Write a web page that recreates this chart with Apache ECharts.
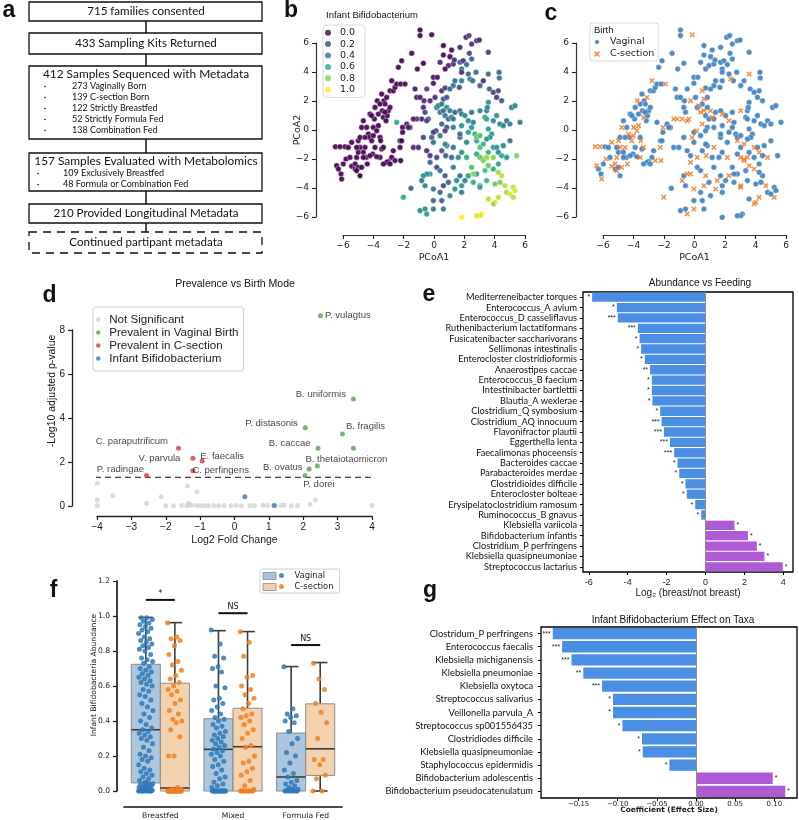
<!DOCTYPE html>
<html>
<head>
<meta charset="utf-8">
<script src="https://cdn.jsdelivr.net/npm/echarts@6.0.0/dist/echarts.min.js"></script>
<style>
  html, body { margin: 0; padding: 0; background: #fff; }
  #chart { width: 799px; height: 820px; }
</style>
</head>
<body>
<div id="chart"></div>
<script>
// ---------- data ----------
const flowTitles = [
  '715 families consented',
  '433 Sampling Kits Returned',
  '412 Samples Sequenced with Metadata',
  '157 Samples Evaluated with Metabolomics',
  '210 Provided Longitudinal Metadata',
  'Continued partipant metadata'
];
const flowItems = [
  [],
  [],
  ['273 Vaginally Born', '139 C-section Born', '122 Strictly Breastfed', '52 Strictly Formula Fed', '138 Combination Fed'],
  ['109 Exclusively Breastfed', '48 Formula or Combination Fed'],
  [],
  []
];

// [PCoA1, PCoA2, infant Bifidobacterium, birth (0 vaginal / 1 C-section)]
const pcoaPoints = [
  [-6.5,-1.15,0,1],[-6.2,-1.15,0,1],[-5.87,-1.15,0,0],[-6.42,-2.46,0,1],[-6.3,-2.69,0,0],[-6.13,-3.03,0,0],[-6.09,-3.38,0,1],[-5.98,-2.34,0,0],[-5.8,-2.0,0,1],[-5.65,-1.2,0,0],
  [-5.43,-0.85,0,1],[-5.43,-2.5,0,1],[-5.2,-2.34,0,1],[-5.2,-2.69,0,0],[-5.1,-1.89,0,1],[-4.99,-1.54,0,0],[-4.99,-0.74,0,1],[-4.88,-0.51,0,0],[-4.77,0.18,0,1],[-4.66,0.64,0,0],
  [-4.55,-1.2,0,1],[-4.48,-1.89,0,0],[-4.4,-2.34,0,1],[-4.33,-0.28,0,1],[-4.26,-0.51,0,0],[-4.22,1.1,0,0],[-4.11,-0.74,0,1],[-4.04,-1.66,0,0],[-4.0,0.18,0,1],[-3.93,0.76,0,0],
  [-3.89,1.56,0,0],[-3.78,-0.05,0,1],[-3.74,2.02,0,1],[-3.67,1.1,0,0],[-3.56,-0.51,0,0],[-3.52,-0.74,0,1],[-3.45,2.48,0,0],[-3.41,1.33,0,0],[-3.34,0.87,0,1],[-3.3,2.02,0,0],
  [-3.23,1.79,0,0],[-3.16,0.64,0,0],[-3.12,2.25,0,1],[-3.08,0.99,0,0],[-3.01,1.33,0,0],[-2.9,2.71,0,0],[-2.79,3.4,0,1],[-2.68,2.71,0,0],[-2.57,2.94,0,0],[-2.46,3.17,0,0],
  [-2.35,4.32,0,0],[-2.2,3.17,0,0],[-2.13,4.78,0,0],[-2.07,0.18,0,1],[-1.91,3.17,0,1],[-2.24,-0.74,0,0],[-2.24,-1.2,0,1],[-2.79,-1.89,0,0],[-3.01,-2.18,0,0],[-3.12,-2.23,0,0],
  [-2.57,-2.11,0,1],[-2.13,-0.74,0,0],[-3.56,-1.89,0,1],[-3.78,-1.84,0,0],[-4.22,-1.77,0,0],[-4.66,-1.54,0,0],[-4.88,-1.2,0,1],[-5.1,-1.2,0,0],[-4.55,-0.51,0,0],[-4.44,0.18,0,0],
  [-4.0,-0.39,0,1],[-3.89,-1.2,0,0],[-3.45,-1.31,0,0],[-3.34,-1.2,0,1],[-4.99,-2.57,0,0],[-4.77,-2.57,0,1],[-4.66,-1.89,0,0],[-4.88,-3.15,0,0],[-5.1,-2.8,0,1],[-5.54,-1.89,0,0],
  [-4.11,0.99,0,0],[-3.67,0.3,0,1],[-3.56,1.79,0,0],[-2.9,1.56,0,0],[-3.23,1.22,0,0],[-2.46,0.53,0.6,0],[-2.68,-1.43,0,0],[-2.9,-2.34,0,0],[-3.34,-2.34,0,0],
  [-0.92,6.9,0,0],[-0.92,6.51,0,0],[-0.15,6.57,0,1],[-1.47,5.29,0,0],[-1.1,4.21,0,0],[-0.7,4.6,0,0],[0.62,5.82,0,0],[0.62,5.17,0,0],[1.05,5.06,0,0],[1.16,5.52,0,0],
  [1.27,4.55,0.1,0],[0.95,4.44,0.1,0],[0.73,4.21,0,0],[1.71,4.67,0.3,0],[1.82,4.21,0.35,0],[1.93,4.78,0.1,0],[2.11,6.39,0.1,0],[2.31,6.51,0.2,0],[2.48,5.93,0.1,0],[2.81,6.16,0.1,0],
  [2.99,6.21,0.1,0],[2.33,5.29,0.2,0],[2.48,4.9,0.3,0],[2.15,4.51,0.35,0],[1.71,5.7,0.1,0],[1.34,4.83,0.1,0],[0.4,4.67,0.1,0],[-0.04,3.63,0.05,0],[-0.48,2.83,0.15,0],[-0.66,2.02,0.1,0],
  [-0.7,1.56,0.1,0],[-0.59,1.22,0.2,0],[-0.81,0.76,0.1,1],[-1.14,0.76,0.1,1],[-1.36,0.76,0.05,1],[-1.8,0.41,0.1,0],[-1.58,0.18,0.1,0],[-1.25,2.83,0.05,0],[-1.14,2.25,0.05,0],[-0.92,2.25,0.05,0],
  [-0.26,2.02,0.1,1],[-0.04,3.22,0.05,0],[0.07,2.25,0.1,0],[0.22,3.63,0.05,0],[0.51,2.71,0.1,1],[0.73,2.9,0.15,0],[0.62,2.14,0.2,1],[0.84,2.25,0.25,0],[1.05,2.83,0.3,0],[1.27,3.06,0.4,0],
  [1.38,3.4,0.35,0],[1.67,2.94,0.2,0],[1.82,3.98,0.1,0],[1.82,3.4,0.4,0],[2.26,3.86,0.3,0],[2.37,3.52,0.4,1],[2.55,3.4,0.35,0],[2.77,3.98,0.35,0],[3.03,3.06,0.3,0],[3.25,3.4,0.1,0],
  [3.58,5.36,0.15,0],[3.58,3.86,0.35,1],[3.65,2.83,0.3,0],[3.91,2.6,0.2,0],[4.13,2.25,0.15,0],[4.24,2.71,0.2,0],[4.29,3.98,0.3,0],[4.31,3.59,0.35,0],[4.46,2.02,0.25,0],[-2.07,-0.16,0,0],
  [-1.36,-1.2,0.1,0],[-1.03,-1.2,0.1,0],[-1.69,0.18,0.05,0],
  [0.4,1.22,0.4,1],[0.18,1.56,0.35,0],[0.29,1.68,0.45,1],[0.51,1.79,0.4,0],[0.62,1.33,0.3,1],[0.73,0.99,0.35,0],[0.84,1.56,0.5,0],[1.05,1.33,0.4,1],[0.95,0.76,0.3,0],[1.16,0.87,0.35,1],
  [1.27,0.76,0.4,0],[1.38,1.22,0.3,0],[1.71,1.33,0.35,0],[1.82,1.1,0.4,1],[1.82,0.3,0.5,0],[2.04,0.99,0.45,0],[1.27,0.18,0.4,0],[0.84,0.18,0.2,0],[0.73,-0.05,0.15,0],[0.51,0.41,0.3,1],
  [0.13,-0.05,0.2,1],[-0.04,-0.16,0.15,0],[-0.15,-0.51,0.3,1],[-0.04,-0.85,0.35,0],[-0.37,0.76,0.2,1],[-0.48,0.64,0.15,1],[-0.7,-0.51,0.2,0],[-0.48,-1.43,0.1,0],[-0.26,-1.77,0.15,0],[0.18,-1.89,0.2,1],
  [0.51,-1.43,0.25,0],[0.77,-1.77,0.3,1],[0.84,-1.08,0.4,0],[1.27,-1.2,0.35,1],[1.16,-1.89,0.3,0],[1.6,-1.89,0.45,0],[1.82,-1.54,0.5,0],[2.15,-1.89,0.6,1],[2.15,-0.85,0.45,0],[1.71,-0.51,0.4,0],
  [2.26,-0.16,0.55,0],[2.48,0.18,0.5,0],[2.59,0.53,0.45,0],[2.7,-0.28,0.6,0],[2.81,-0.74,0.55,1],[3.03,-1.2,0.7,0],[3.25,-0.97,0.65,1],[3.36,0.87,0.5,0],[3.47,0.76,0.6,0],[3.47,1.33,0.4,0],
  [3.58,0.07,0.55,0],[3.8,-0.28,0.5,0],[3.91,0.64,0.45,0],[4.13,0.99,0.5,0],[4.35,0.41,0.4,0],[4.57,0.3,0.45,0],[4.79,0.64,0.35,0],[5.12,1.56,0.4,0],[5.34,1.68,0.45,0],[5.67,0.53,0.4,0],
  [5.01,-0.74,0.35,0],[5.01,0.41,0.4,0],[3.91,-1.2,0.55,1],[4.24,-1.54,0.45,1],[4.46,-1.77,0.6,0],[4.79,-1.89,0.5,1],[3.25,-2.0,0.7,1],[3.03,-1.89,0.75,1],[2.81,-1.66,0.6,0],[2.48,-2.57,0.7,0],
  [2.81,-3.03,0.5,0],[3.25,-2.11,0.8,1],[3.58,-2.46,0.75,1],[3.36,-2.8,0.7,0],[3.91,-2.69,0.6,1],[4.24,-2.34,0.55,0],[3.58,-1.54,0.65,0],[3.69,-0.51,0.5,0],[2.81,-0.51,0.75,0],[3.03,-0.39,0.7,0],
  [3.47,-0.62,0.5,0],[4.13,-1.2,0.5,0],[4.57,-1.08,0.45,0],[3.47,-1.89,0.85,1],[3.91,-1.89,0.8,0],[-0.26,-2.23,0.3,1],[0.18,-2.57,0.2,0],[0.4,-2.8,0.35,0],[0.73,-3.15,0.25,1],[1.27,-2.57,0.4,0],
  [1.49,-3.49,0.45,1],[1.82,-3.84,0.5,0],[2.04,-3.49,0.4,0],[2.26,-3.15,0.55,1],[2.59,-3.61,0.6,0],[3.03,-3.84,0.55,1],[1.71,-3.15,0.35,0],[0.95,-3.61,0.3,0],[0.62,-3.84,0.2,1],[0.4,-4.3,0.3,0],
  [-0.04,-4.07,0.35,1],[-0.04,-4.87,0.3,0],[-0.26,-3.03,0.55,1],[-0.48,-3.03,0.45,1],[-0.7,-3.15,0.5,0],[-0.81,-3.49,0.4,1],[-0.59,-3.84,0.45,0],[-0.92,-5.56,0.45,0],[-0.59,-5.45,0.5,0],[-0.48,-5.79,0.55,1],
  [-0.04,-5.45,0.4,1],[0.51,-4.87,0.3,0],[0.62,-5.45,0.35,0],[1.05,-4.53,0.45,0],[1.38,-4.07,0.5,1],[1.82,-4.3,0.4,0],[2.59,-3.03,0.8,0],[3.03,-3.95,0.6,1],[3.47,-3.49,0.65,0],[4.02,-3.72,0.75,0],
  [4.35,-3.61,0.8,0],[4.46,-3.15,0.9,0],[4.24,-2.92,0.85,0],[4.68,-3.84,0.9,1],[4.79,-4.3,0.85,0],[5.01,-4.41,0.95,0],[5.23,-3.95,0.9,0],[5.34,-4.18,0.95,0],[5.23,-4.64,0.9,1],[4.24,-4.64,0.9,1],
  [4.02,-4.99,0.95,1],[3.91,-5.1,0.85,1],[3.58,-4.76,0.9,0],[3.14,-5.79,1.0,0],[3.03,-5.91,0.95,0],[2.81,-5.91,0.95,0],[1.82,-6.02,1.0,0],[0.4,-0.39,0.4,0],[0.73,-0.97,0.5,0],[1.71,-0.28,0.3,0],
  [2.26,0.64,0.45,1],[2.48,1.22,0.35,0],[3.58,1.91,0.5,0],[3.52,1.56,0.45,0],[3.03,1.33,0.4,1],[5.45,-1.77,0.8,0],[-2.02,-4.64,0.6,1],[-1.52,-4.02,0.3,0],[-2.2,-2.11,0,1]
];
const bifidoLevels = ['0.0', '0.2', '0.4', '0.6', '0.8', '1.0'];

// volcano (d): [log2 fold change, -log10 adjusted p]
const notSignificant = [
  [-3.99,1.03],[-3.99,0.27],[-3.99,0.02],[-3.54,0.47],[-2.56,0.12],[-2.13,0.42],[-1.37,0.91],[-1.09,0.65],[-1.34,0.12],[2.35,0.27],
  [2.2,0.08],[4.0,0.02],[-2.0,0.01],[-1.78,0.01],[-1.54,0.02],[-1.39,0.01],[-1.25,0.03],[-1.1,0.02],[-1.0,0.01],[-0.88,0.02],
  [-0.76,0.01],[-0.6,0.02],[-0.46,0.01],[-0.3,0.02],[-0.1,0.01],[0.05,0.02],[0.2,0.01],[0.44,0.02],[0.58,0.01],[0.83,0.03],
  [0.96,0.02],[1.2,0.01],[1.36,0.02],[1.65,0.01],[1.83,0.02],[1.45,0.05],[-1.32,0.05]
];
const vaginalTaxa = ['P. vulagtus', 'B. uniformis', 'P. distasonis', 'B. fragilis', 'B. caccae', '', 'B. thetaiotaomicron', 'B. ovatus', 'P. dorei'];
const vaginalPrev = [[2.5,8.65],[3.46,4.86],[2.06,3.56],[3.14,3.27],[2.43,2.62],[3.46,2.62],[2.41,1.82],[2.17,1.68],[2.05,1.39]];
const csectionTaxa = ['C. paraputrificum', 'V. parvula', 'E. faecalis', 'C. perfingens', 'P. radingae'];
const csectionPrev = [[-1.63,2.62],[-1.21,2.17],[-0.94,2.05],[-1.21,1.6],[-2.56,1.39]];
const bifidoPrev = [[0.3,0.42],[1.15,0.02]];
const pThreshold = 1.3;

// abundance vs feeding (e)
const feedTaxa = [
  'Mediterreneibacter torques', 'Enterococcus_A avium', 'Enterococcus_D casseliflavus', 'Ruthenibacterium lactatiformans',
  'Fusicatenibacter saccharivorans', 'Sellimonas intestinalis', 'Enterocloster clostridioformis', 'Anaerostipes caccae',
  'Enterococcus_B faecium', 'Intestinibacter bartlettii', 'Blautia_A wexlerae', 'Clostridium_Q symbosium',
  'Clostridium_AQ innocuum', 'Flavonifractor plautii', 'Eggerthella lenta', 'Faecalimonas phoceensis',
  'Bacteroides caccae', 'Parabacteroides merdae', 'Clostridioides difficile', 'Enterocloster bolteae',
  'Erysipelatoclostridium ramosum', 'Ruminococcus_B gnavus', 'Klebsiella variicola', 'Bifidobacterium infantis',
  'Clostridium_P perfringens', 'Klebsiella quasipneumoniae', 'Streptococcus lactarius'
];
const feedLog2 = [-5.83,-4.56,-4.51,-3.48,-3.39,-3.31,-3.12,-2.85,-2.76,-2.76,-2.73,-2.33,-2.26,-2.14,-1.83,-1.61,-1.44,-1.35,-1.03,-0.96,-0.53,-0.22,1.49,2.18,2.64,3.03,3.97];
const feedStars = ['*','*','***','***','*','*','*','**','*','*','*','*','***','***','***','***','*','*','*','*','*','*','*','*','*','*','*'];

// infant bifidobacteria abundance (f)
const feedGroups = ['Breastfed', 'Mixed', 'Formula Fed'];
// [min, q1, median, q3, max]
const vaginalBox = [[0, 0.046, 0.35, 0.724, 0.992], [0, 0, 0.238, 0.413, 0.916], [0, 0, 0.08, 0.331, 0.711]];
const csectionBox = [[0, 0, 0.017, 0.616, 0.962], [0, 0, 0.253, 0.473, 0.911], [0, 0.089, 0.241, 0.498, 0.734]];
const vaginalAbund = [
  [0,0,0,0,0,0,0,0,0.005,0.01,0.01,0.012,0.015,0.02,0.02,0.025,0.03,0.03,0.035,0.04,0.04,0.042,0.045,0,0,
   0.05,0.06,0.07,0.08,0.09,0.1,0.11,0.12,0.13,0.15,0.17,0.18,0.19,0.2,0.21,0.23,0.25,0.27,0.29,0.3,0.31,0.32,0.33,0.34,0.35,
   0.36,0.38,0.4,0.42,0.44,0.46,0.48,0.5,0.52,0.54,0.55,0.57,0.58,0.6,0.61,0.62,0.63,0.64,0.65,0.66,0.67,0.68,0.69,0.7,0.71,
   0.73,0.74,0.75,0.76,0.78,0.8,0.81,0.82,0.83,0.84,0.85,0.86,0.87,0.88,0.9,0.91,0.92,0.93,0.94,0.95,0.96,0.97,0.98,0.99,0.99],
  [0.92,0.84,0.77,0.76,0.71,0.7,0.68,0.6,0.59,0.53,0.52,0.5,0.48,0.46,0.44,0.42,
   0.41,0.4,0.38,0.37,0.36,0.34,0.33,0.32,0.31,0.3,0.29,0.28,0.27,0.26,0.25,0.24,
   0.23,0.22,0.21,0.2,0.18,0.17,0.15,0.14,0.12,0.1,0.08,0.07,0.05,0.04,0.03,0.02,
   0,0,0,0,0,0,0,0,0,0,0,0,0,0,0,0],
  [0.71,0.47,0.44,0.43,0.42,0.4,0.39,0.34,0.3,0.27,0.22,0.2,0.16,0.12,0.1,0.08,
   0.06,0.05,0.04,0.03,0.02,0.01,0.01,0.005,0,0,0,0,0,0,0,0]
];
const csectionAbund = [
  [0.96,0.88,0.87,0.86,0.83,0.78,0.74,0.72,0.69,0.66,0.64,0.62,0.6,0.58,0.57,0.55,0.52,0.5,0.46,0.44,0.41,0.4,0.39,0.35,0.31,0.2,0.2,
   0.02,0.01,0.01,0,0,0,0,0,0,0,0,0,0,0,0,0,0,0,0,0,0,0,0,0,0,0,0],
  [0.91,0.85,0.77,0.66,0.65,0.6,0.58,0.55,0.53,0.5,0.47,0.44,0.43,0.42,0.4,0.38,0.35,0.33,0.3,0.26,
   0.25,0.2,0.17,0.16,0.13,0.11,0.09,0.06,0.03,0.01,0,0,0,0,0,0,0,0,0,0],
  [0,0,0.07,0.09,0.15,0.18,0.18,0.3,0.39,0.45,0.5,0.58,0.64,0.73]
];
const sigMarks = ['*', 'NS', 'NS'];

// infant bifidobacterium effect on taxa (g)
const effectTaxa = [
  'Clostridum_P perfringens', 'Enterococcus faecalis', 'Klebsiella michiganensis', 'Klebsiella pneumoniae',
  'Klebsiella oxytoca', 'Streptococcus salivarius', 'Veillonella parvula_A', 'Streptococcus sp001556435',
  'Clostridiodes difficile', 'Klebsiella quasipneumoniae', 'Staphylococcus epidermidis',
  'Bifidobacterium adolescentis', 'Bifidobacterium pseudocatenulatum'
];
const effectCoef = [-0.183,-0.171,-0.159,-0.144,-0.12,-0.106,-0.106,-0.094,-0.069,-0.068,-0.034,0.098,0.114];
const effectStars = ['***','***','***','**','***','*','*','*','*','*','*','*','*'];

// ---------- styles / layout ----------
const SANS = 'Liberation Sans, Arial, sans-serif';
const DEJAVU = 'DejaVu Sans, sans-serif';
const HUMAN = 'Lato, sans-serif';
const INK = '#222';
const VIRIDIS = ['#440154','#482878','#3e4989','#31688e','#26828e','#1f9e89','#35b779','#6ece58','#b5de2b','#fde725'];
const LEVEL_COLORS = ['#440154','#414487','#2a788e','#22a884','#7ad151','#fde725'];
const BLUE = '#3b7fc0', ORANGE = '#f08232';
const BAR_BLUE = '#4a8fe3', BAR_PURPLE = '#b05ad6';
const XMARK = 'path://M0,2L2,0L5,3L8,0L10,2L7,5L10,8L8,10L5,7L2,10L0,8L3,5Z';
const minus = v => (v < 0 ? '\u2212' + Math.abs(v) : String(v));

const chart = echarts.init(document.getElementById('chart'), null, { renderer: 'canvas' });

// panel a: flow chart boxes
const flowLayout = {
  left: 29, width: 233, mid: 146,
  tops: [2, 33, 66, 153, 204, 232],
  heights: [19, 21, 73, 38, 19, 21],
  dotX: [0, 0, 45, 38, 0, 0],
  textX: [0, 0, 72, 63, 0, 0]
};
const graphics = [];
const txt = (text, x, y, font, align, valign, rotation) => ({
  type: 'text', silent: true, x, y, rotation: rotation || 0,
  style: { text, x: 0, y: 0, font, fill: '#111', textAlign: align, textVerticalAlign: valign, align, verticalAlign: valign }
});

flowTitles.forEach((title, i) => {
  const top = flowLayout.tops[i], h = flowLayout.heights[i];
  const dashed = i === flowTitles.length - 1;
  graphics.push({
    type: 'rect', silent: true,
    shape: { x: flowLayout.left, y: top, width: flowLayout.width, height: h },
    style: { fill: '#fff', stroke: '#111', lineWidth: 1.3, lineDash: dashed ? [8, 6] : null }
  });
  const items = flowItems[i];
  const big = items.length > 0;
  const ty = big ? top + 8.5 : top + h / 2;
  graphics.push(txt(title, flowLayout.mid, ty, (big ? 11.9 : 11.6) + 'px ' + HUMAN, 'center', 'middle'));
  items.forEach((it, k) => {
    const y = top + 20.5 + k * 11;
    graphics.push({ type: 'circle', silent: true, shape: { cx: flowLayout.dotX[i], cy: y, r: 0.8 }, style: { fill: '#111' } });
    graphics.push(txt(it, flowLayout.textX[i], y, '9px ' + HUMAN, 'left', 'middle'));
  });
  if (i < flowTitles.length - 1) {
    graphics.push({
      type: 'line', silent: true,
      shape: { x1: flowLayout.mid, y1: top + h, x2: flowLayout.mid, y2: flowLayout.tops[i + 1] },
      style: { stroke: '#111', lineWidth: 1.5 }
    });
  }
});

// panel letters, titles, free axis names
[['a', 9, 10.5], ['b', 291, 10.5], ['c', 551, 13.5], ['d', 49.5, 295.5], ['e', 429, 294.5], ['f', 53.5, 590.5], ['g', 430, 590.5]]
  .forEach(([t, x, y]) => graphics.push(txt(t, x, y, 'bold 23px ' + SANS, 'center', 'middle')));
graphics.push(txt('Infant Bifidobacterium', 326, 15.5, '9.5px ' + SANS, 'left', 'middle'));
graphics.push(txt('Birth', 594, 30, '9.5px ' + SANS, 'left', 'middle'));
graphics.push(txt('Prevalence vs Birth Mode', 235, 284, '10.5px ' + SANS, 'center', 'middle'));
graphics.push(txt('Abundance vs Feeding', 700, 283, '10px ' + SANS, 'center', 'middle'));
graphics.push(txt('Infant Bifidobacterium Effect on Taxa', 673, 620, '10px ' + SANS, 'center', 'middle'));
graphics.push(txt('-Log10 adjusted p-value', 52, 391, '10.5px ' + SANS, 'center', 'middle', Math.PI / 2));
graphics.push(txt('Infant Bifidobacteria Abundance', 94.5, 675, '7.6px ' + DEJAVU, 'center', 'middle', Math.PI / 2));
// f legend box swatches
graphics.push({ type: 'rect', silent: true, z: 100, shape: { x: 263, y: 572.5, width: 13, height: 7 }, style: { fill: '#a9c2d8', stroke: '#8c8c8c', lineWidth: 0.8 } });
graphics.push({ type: 'rect', silent: true, z: 100, shape: { x: 263, y: 583.5, width: 13, height: 7 }, style: { fill: '#f1cfa9', stroke: '#8c8c8c', lineWidth: 0.8 } });

// ---------- axes helpers ----------
const spine = (w, c) => ({ show: true, onZero: false, lineStyle: { color: c || INK, width: w || 1 } });
const ticks = (len, w) => ({ show: true, length: len, lineStyle: { color: INK, width: w || 1 } });

function pcoaX(gi, name) {
  return {
    gridIndex: gi, type: 'value', min: -6, max: 6, interval: 2, offset: 18,
    axisLine: spine(1.2, '#333'), axisTick: ticks(4, 1.1), splitLine: { show: false },
    axisLabel: { fontSize: 9, fontFamily: DEJAVU, color: INK, margin: 6, formatter: minus },
    name, nameLocation: 'middle', nameGap: 18, nameMoveOverlap: false,
    nameTextStyle: { fontSize: 9.5, fontFamily: DEJAVU, color: INK }
  };
}
function pcoaY(gi, name) {
  return {
    gridIndex: gi, type: 'value', min: -6, max: 6, interval: 2, offset: 27,
    axisLine: spine(1.2, '#333'), axisTick: ticks(4, 1.1), splitLine: { show: false },
    axisLabel: { fontSize: 9, fontFamily: DEJAVU, color: INK, margin: 7, formatter: minus },
    name, nameLocation: 'middle', nameGap: 13, nameRotate: 90, nameMoveOverlap: false,
    nameTextStyle: { fontSize: 9.5, fontFamily: DEJAVU, color: INK }
  };
}

// ---------- series ----------
const series = [];
// b
series.push({
  type: 'scatter', name: 'bifido', xAxisIndex: 0, yAxisIndex: 0, clip: false,
  data: pcoaPoints.map(p => [p[0], p[1], p[2]]), symbolSize: 5.6,
  itemStyle: { opacity: 0.92, borderColor: '#fff', borderWidth: 0.4 }
});
bifidoLevels.forEach((lv, i) => series.push({
  type: 'scatter', name: lv, xAxisIndex: 0, yAxisIndex: 0, data: [], symbolSize: 6,
  itemStyle: { color: LEVEL_COLORS[i] }
}));
// c
series.push({
  type: 'scatter', name: 'Vaginal', xAxisIndex: 1, yAxisIndex: 1, clip: false, symbolSize: 5.6,
  data: pcoaPoints.filter(p => p[3] === 0).map(p => [p[0], p[1]]),
  itemStyle: { color: BLUE, opacity: 0.9, borderColor: '#fff', borderWidth: 0.4 }
});
series.push({
  type: 'scatter', name: 'C-section', xAxisIndex: 1, yAxisIndex: 1, clip: false, symbol: XMARK, symbolSize: 5.5,
  data: pcoaPoints.filter(p => p[3] === 1).map(p => [p[0], p[1]]),
  itemStyle: { color: ORANGE, opacity: 0.88 }
});
// d
const labelPlace = {
  'P. vulagtus': ['right', 2, [0, 0]],
  'B. uniformis': ['left', 5, [0, -5]],
  'P. distasonis': ['left', 5, [0, -4]],
  'B. fragilis': ['right', 1, [0, -8]],
  'B. caccae': ['left', 5, [0, -5]],
  'B. thetaiotaomicron': ['top', 0, [29, 1]],
  'B. ovatus': ['left', 4, [0, -2]],
  'P. dorei': ['bottom', 0, [14, 1]],
  'C. paraputrificum': ['left', 8, [0, -7]],
  'V. parvula': ['left', 10, [0, 0]],
  'E. faecalis': ['top', 0, [20, 3]],
  'C. perfingens': ['right', 0, [-3, 0]],
  'P. radingae': ['left', 0, [0, -6]]
};
const labelled = (pts, names) => pts.map((p, i) => {
  const n = names[i];
  if (!n) return { value: p };
  const [position, distance, offset] = labelPlace[n];
  return { value: p, label: { show: true, formatter: n, position, distance, offset, fontSize: 9.5, fontFamily: SANS, color: '#111' } };
});
series.push({ type: 'scatter', name: 'Not Significant', xAxisIndex: 2, yAxisIndex: 2, clip: false, symbolSize: 5, data: notSignificant, itemStyle: { color: '#d2d2d2' } });
series.push({ type: 'scatter', name: 'Prevalent in Vaginal Birth', xAxisIndex: 2, yAxisIndex: 2, clip: false, symbolSize: 5, data: labelled(vaginalPrev, vaginalTaxa), itemStyle: { color: '#4fa647' } });
series.push({ type: 'scatter', name: 'Prevalent in C-section', xAxisIndex: 2, yAxisIndex: 2, clip: false, symbolSize: 5, data: labelled(csectionPrev, csectionTaxa), itemStyle: { color: '#d43a36' } });
series.push({ type: 'scatter', name: 'Infant Bifidobacterium', xAxisIndex: 2, yAxisIndex: 2, clip: false, symbolSize: 5, data: bifidoPrev, itemStyle: { color: '#3a78b3' } });
series.push({
  type: 'line', name: 'threshold', xAxisIndex: 2, yAxisIndex: 2, clip: false, symbol: 'none', silent: true,
  data: [[-4.35, pThreshold], [4.43, pThreshold]],
  lineStyle: { color: '#444', width: 1.4, type: [6, 4] }, z: 1
});
// e
const zeroLine = { silent: true, symbol: 'none', label: { show: false }, lineStyle: { color: '#8d8d8d', width: 1, type: 'solid' }, data: [{ xAxis: 0 }] };
const starBars = (vals, stars) => vals.map((v, i) => ({
  value: v,
  itemStyle: { color: v < 0 ? BAR_BLUE : BAR_PURPLE },
  label: { show: true, formatter: stars[i], position: v < 0 ? 'left' : 'right', distance: 2, fontSize: 7, color: '#222', fontFamily: SANS }
}));
series.push({
  type: 'bar', name: 'feeding', xAxisIndex: 3, yAxisIndex: 3, barCategoryGap: '10%',
  data: starBars(feedLog2, feedStars), markLine: zeroLine
});
// f
function boxSeries(name, stats, shift, fill) {
  return {
    type: 'custom', name, xAxisIndex: 5, yAxisIndex: 4, clip: false, z: 2, silent: true,
    data: stats.map((s, i) => [i + shift].concat(s)),
    encode: { x: 0, y: [1, 2, 3, 4, 5] },
    renderItem: (params, api) => {
      const x = api.value(0);
      const mn = api.value(1), q1 = api.value(2), md = api.value(3), q3 = api.value(4), mx = api.value(5);
      const p = (dx, v) => api.coord([x + dx, v]);
      const line = (a, b) => ({ type: 'line', shape: { x1: a[0], y1: a[1], x2: b[0], y2: b[1] }, style: { stroke: '#3d3d3d', lineWidth: 1.6 } });
      const lo = p(-0.2, q1), hi = p(0.2, q3);
      return {
        type: 'group', children: [
          line(p(0, q3), p(0, mx)), line(p(0, q1), p(0, mn)),
          line(p(-0.1, mx), p(0.1, mx)), line(p(-0.1, mn), p(0.1, mn)),
          { type: 'rect', shape: { x: lo[0], y: hi[1], width: hi[0] - lo[0], height: lo[1] - hi[1] }, style: { fill, stroke: '#8c8c8c', lineWidth: 1 } },
          line(p(-0.2, md), p(0.2, md))
        ]
      };
    }
  };
}
const jitter = k => (((k * 0.6180339887) % 1) - 0.5) * 0.2;
const strip = (groups, shift) => {
  const out = [];
  groups.forEach((vals, i) => vals.forEach((v, k) => out.push([i + shift + jitter(k), v])));
  return out;
};
series.push(boxSeries('box vaginal', vaginalBox, -0.2, 'rgba(150,184,212,0.8)'));
series.push(boxSeries('box csection', csectionBox, 0.2, 'rgba(240,200,155,0.8)'));
series.push({ type: 'scatter', name: 'Vaginal ', xAxisIndex: 5, yAxisIndex: 4, clip: false, z: 3, symbolSize: 5, data: strip(vaginalAbund, -0.2), itemStyle: { color: '#2f78b9', opacity: 0.85 } });
series.push({ type: 'scatter', name: 'C-section ', xAxisIndex: 5, yAxisIndex: 4, clip: false, z: 3, symbolSize: 5, data: strip(csectionAbund, 0.2), itemStyle: { color: '#f0801f', opacity: 0.85 } });
series.push({
  type: 'custom', name: 'significance', xAxisIndex: 5, yAxisIndex: 4, clip: false, silent: true,
  data: sigMarks.map((m, i) => [i, Math.max(vaginalBox[i][4], csectionBox[i][4]) + 0.1]),
  encode: { x: 0, y: 1 },
  renderItem: (params, api) => {
    const i = api.value(0), h = api.value(1);
    const a = api.coord([i - 0.2, h]), b = api.coord([i + 0.2, h]);
    return {
      type: 'group', children: [
        { type: 'line', shape: { x1: a[0], y1: a[1], x2: b[0], y2: b[1] }, style: { stroke: '#111', lineWidth: 2 } },
        { type: 'text', style: { text: sigMarks[params.dataIndex], x: (a[0] + b[0]) / 2, y: a[1] - 2, font: '8px ' + DEJAVU, fill: '#111', align: 'center', verticalAlign: 'bottom' } }
      ]
    };
  }
});
// g
series.push({
  type: 'bar', name: 'effect', xAxisIndex: 6, yAxisIndex: 5, barCategoryGap: '14%',
  data: starBars(effectCoef, effectStars), markLine: zeroLine
});

const option = {
  animation: false,
  backgroundColor: '#fff',
  textStyle: { fontFamily: SANS },
  grid: [
    { left: 343, top: 43, width: 182, height: 174 },
    { left: 603, top: 43, width: 183, height: 174 },
    { left: 97, top: 330, width: 275, height: 176 },
    { left: 583, top: 292, width: 210, height: 280, show: true, borderColor: '#000', borderWidth: 1.3 },
    { left: 124, top: 581, width: 218, height: 210 },
    { left: 541, top: 627, width: 256, height: 171, show: true, borderColor: '#000', borderWidth: 1.3 }
  ],
  visualMap: [{
    type: 'continuous', show: false, seriesIndex: 0, dimension: 2, min: 0, max: 1,
    inRange: { color: VIRIDIS }
  }],
  xAxis: [
    pcoaX(0, 'PCoA1'),
    pcoaX(1, 'PCoA1'),
    {
      gridIndex: 2, type: 'value', min: -4, max: 4, interval: 1, offset: 10,
      axisLine: spine(1.3), axisTick: ticks(4, 1.2), splitLine: { show: false },
      axisLabel: { fontSize: 10, color: INK, margin: 6, formatter: minus },
      name: 'Log2 Fold Change', nameLocation: 'middle', nameGap: 19, nameMoveOverlap: false,
      nameTextStyle: { fontSize: 10.5, color: INK }
    },
    {
      gridIndex: 3, type: 'value', min: -6.3, max: 4.5,
      axisLine: { show: false, onZero: false }, splitLine: { show: false },
      axisTick: { show: true, length: 3, lineStyle: { color: '#000' }, customValues: [-6, -4, -2, 0, 2, 4] },
      axisLabel: { fontSize: 9, color: INK, margin: 6, customValues: [-6, -4, -2, 0, 2, 4] },
      name: 'Log\u2082 (breast/not breast)', nameLocation: 'middle', nameGap: 16, nameMoveOverlap: false,
      nameTextStyle: { fontSize: 10, color: INK }
    },
    {
      gridIndex: 4, type: 'category', data: feedGroups, offset: 16,
      axisLine: spine(1.6, '#111'), axisTick: { show: false },
      axisLabel: { fontSize: 7.6, fontFamily: DEJAVU, color: INK, margin: 5 }
    },
    { gridIndex: 4, type: 'value', min: -0.5, max: 2.5, show: false, axisLine: { onZero: false } },
    {
      gridIndex: 5, type: 'value', min: -0.198, max: 0.129,
      axisLine: { show: false, onZero: false }, splitLine: { show: false },
      axisTick: { show: true, length: 3, lineStyle: { color: '#000' }, customValues: [-0.15, -0.1, -0.05, 0, 0.05, 0.1] },
      axisLabel: {
        fontSize: 7, fontFamily: DEJAVU, color: INK, margin: 3, customValues: [-0.15, -0.1, -0.05, 0, 0.05, 0.1],
        formatter: v => (v < -1e-9 ? '\u2212' : '') + Math.abs(v).toFixed(2)
      },
      name: 'Coefficient (Effect Size)', nameLocation: 'middle', nameGap: 9, nameMoveOverlap: false,
      nameTextStyle: { fontSize: 7.4, fontWeight: 'bold', fontFamily: DEJAVU, color: INK }
    }
  ],
  yAxis: [
    pcoaY(0, 'PCoA2'),
    pcoaY(1, ''),
    {
      gridIndex: 2, type: 'value', min: 0, max: 8, interval: 2, offset: 25,
      axisLine: spine(1.3), axisTick: ticks(4, 1.2), splitLine: { show: false },
      axisLabel: { fontSize: 10, color: INK, margin: 7 }
    },
    {
      gridIndex: 3, type: 'category', data: feedTaxa, inverse: true,
      axisLine: { show: false, onZero: false }, axisTick: { show: true, length: 3, alignWithLabel: true, interval: 0, lineStyle: { color: '#000' } },
      axisLabel: { fontSize: 9.2, fontFamily: HUMAN, color: '#111', margin: 6, interval: 0 }
    },
    {
      gridIndex: 4, type: 'value', min: 0, max: 1.2, interval: 0.2, offset: 7,
      axisLine: spine(1.6, '#111'), axisTick: ticks(4, 1.3), splitLine: { show: false },
      axisLabel: { fontSize: 7.6, fontFamily: DEJAVU, color: INK, margin: 7, formatter: v => v.toFixed(1) }
    },
    {
      gridIndex: 5, type: 'category', data: effectTaxa, inverse: true,
      axisLine: { show: false, onZero: false }, axisTick: { show: true, length: 3, alignWithLabel: true, interval: 0, lineStyle: { color: '#000' } },
      axisLabel: { fontSize: 9.3, fontFamily: HUMAN, color: '#111', margin: 8, interval: 0 }
    }
  ],
  legend: [
    {
      data: bifidoLevels, orient: 'vertical', left: 323, top: 25, itemWidth: 14, itemHeight: 6, itemGap: 0,
      padding: [2, 10, 2, 2], borderColor: '#d8d8d8', borderWidth: 1, borderRadius: 3, selectedMode: false,
      textStyle: { fontSize: 9.5, fontFamily: DEJAVU, color: INK, lineHeight: 11.4 }
    },
    {
      data: ['Vaginal', 'C-section'], orient: 'vertical', left: 590, top: 23, itemWidth: 16, itemHeight: 6, itemGap: 0,
      padding: [13, 4, 1, 3], borderColor: '#d8d8d8', borderWidth: 1, borderRadius: 3, selectedMode: false,
      textStyle: { fontSize: 9.5, fontFamily: DEJAVU, color: INK, lineHeight: 12 }
    },
    {
      data: ['Not Significant', 'Prevalent in Vaginal Birth', 'Prevalent in C-section', 'Infant Bifidobacterium'],
      orient: 'vertical', left: 93, top: 307, itemWidth: 12, itemHeight: 4.5, itemGap: 0,
      padding: [6, 5, 6, 3], borderColor: '#d0d0d0', borderWidth: 1, borderRadius: 3, selectedMode: false,
      textStyle: { fontSize: 11.6, fontFamily: SANS, color: INK, lineHeight: 13 }
    },
    {
      data: ['Vaginal ', 'C-section '], orient: 'vertical', left: 260, top: 569, itemWidth: 16, itemHeight: 5, itemGap: 0,
      padding: [1, 6, 1, 19], borderColor: '#d0d0d0', borderWidth: 1, borderRadius: 2, selectedMode: false,
      formatter: n => n.trim(), textStyle: { fontSize: 8.4, fontFamily: DEJAVU, color: INK, lineHeight: 11 }
    }
  ],
  graphic: graphics,
  series
};
chart.setOption(option);
</script>
</body>
</html>
